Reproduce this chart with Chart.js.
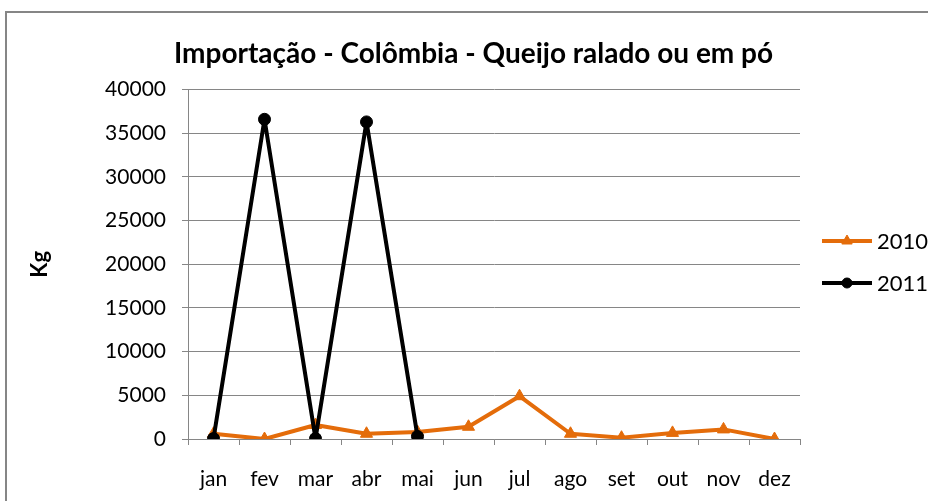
<!DOCTYPE html>
<html>
<head>
<meta charset="utf-8">
<script src="https://cdn.jsdelivr.net/npm/chart.js@4/dist/chart.umd.min.js"></script>
<style>
  body { margin: 0; background: #fff; }
  .frame { position: absolute; left: 5px; top: 11px; width: 1000px; height: 600px; border-left: 2px solid #868686; border-top: 2px solid #868686; }
  canvas { position: absolute; left: 0; top: 0; }
</style>
</head>
<body>
<div class="frame"></div>
<canvas id="chart" width="928" height="501"></canvas>
<script>
let months = ['jan', 'fev', 'mar', 'abr', 'mai', 'jun', 'jul', 'ago', 'set', 'out', 'nov', 'dez'];
let values2010 = [600, 0, 1600, 600, 800, 1400, 4900, 600, 150, 700, 1100, 0];
let values2011 = [50, 36600, 50, 36300, 300];
let yTicks = [0, 5000, 10000, 15000, 20000, 25000, 30000, 35000, 40000];

let orange = '#E46C0A';
let gray = '#868686';
let font = 'Lato, "Open Sans", sans-serif';

// legend drawn by hand: line with the marker in the middle, like Excel
let sideLegend = {
  id: 'sideLegend',
  afterDraw: function(chart) {
    let ctx = chart.ctx;
    let rows = [241, 283];
    chart.data.datasets.forEach(function(ds, i) {
      let y = rows[i];
      ctx.save();
      ctx.strokeStyle = ds.borderColor;
      ctx.fillStyle = ds.backgroundColor;
      ctx.lineWidth = ds.borderWidth;
      ctx.beginPath();
      ctx.moveTo(822, y);
      ctx.lineTo(872, y);
      ctx.stroke();
      ctx.lineWidth = 1;
      Chart.helpers.drawPoint(ctx, {pointStyle: ds.pointStyle, radius: ds.legendRadius, borderWidth: 1}, 847, y);
      ctx.fillStyle = '#000';
      ctx.font = '22px ' + font;
      ctx.textBaseline = 'middle';
      ctx.fillText(ds.label, 877, y + 1);
      ctx.restore();
    });
  }
};

new Chart(document.getElementById('chart'), {
  type: 'line',
  data: {
    labels: months,
    datasets: [{
      label: '2010',
      data: values2010,
      order: 1,
      borderColor: orange,
      backgroundColor: orange,
      borderWidth: 4,
      borderJoinStyle: 'round',
      pointStyle: 'triangle',
      pointRadius: 7,
      pointBorderWidth: 1,
      legendRadius: 6,
      tension: 0
    }, {
      label: '2011',
      data: values2011,
      order: 0,
      borderColor: '#000',
      backgroundColor: '#000',
      borderWidth: 4,
      borderJoinStyle: 'round',
      pointStyle: 'circle',
      pointRadius: 6,
      pointBorderWidth: 1,
      legendRadius: 5,
      tension: 0
    }]
  },
  options: {
    responsive: false,
    animation: false,
    layout: { padding: { left: 19, right: 0, top: 0, bottom: 0 } },
    plugins: {
      legend: { display: false },
      tooltip: { enabled: false },
      title: {
        display: true,
        text: 'Importação - Colômbia - Queijo ralado ou em pó',
        color: '#000',
        font: { family: font, size: 28, weight: 'bold' },
        padding: { top: 37, bottom: 19 }
      }
    },
    scales: {
      x: {
        offset: true,
        grid: { offset: true, drawOnChartArea: false, color: gray, tickLength: 6 },
        border: { color: gray, width: 1 },
        ticks: { color: '#000', font: { family: font, size: 21 }, padding: 22, maxRotation: 0, autoSkip: false },
        afterFit: function(scale) { scale.height = 62; }
      },
      y: {
        min: 0,
        max: 40000,
        afterBuildTicks: function(scale) { scale.ticks = yTicks.map(function(v) { return {value: v}; }); },
        grid: { color: gray, tickLength: 6 },
        border: { color: gray, width: 1 },
        ticks: {
          color: '#000',
          font: { family: font, size: 21 },
          padding: 16,
          callback: function(value) { return String(value); }
        },
        title: { display: true, text: 'Kg', color: '#000', font: { family: font, size: 22, weight: 'bold' }, padding: { top: 8 } },
        afterFit: function(scale) { scale.width = 169; }
      },
      side: {
        position: 'right',
        display: true,
        grid: { display: false },
        border: { display: false },
        ticks: { display: false },
        afterFit: function(scale) { scale.width = 128; }
      }
    }
  },
  plugins: [sideLegend]
});
</script>
</body>
</html>
